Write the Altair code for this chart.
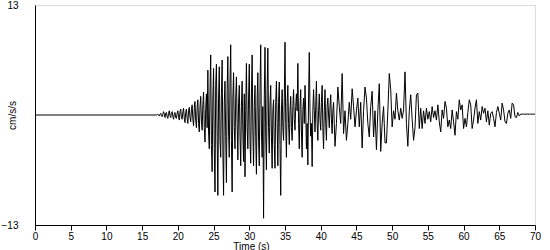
import altair as alt
import pandas as pd

# Acceleration record (cm/s/s). Quiet (0) before 17 s.
# Segment 1: 17.0 s to 41.9 s, one value every 0.1 s
seg1_start, seg1_step = 17.0, 0.1
accel_1 = [
    0, 0.05, 0.1, -0.05, -0.1, 0.1, 0.2, -0.1, -0.2, 0.1,          # 17
    0.4, 0.1, -0.3, 0.2, 0.3, -0.2, -0.4, 0.2, 0.5, -0.1,          # 18
    -0.3, 0.3, 0.4, -0.2, -0.5, 0.1, 0.3, -0.3, -0.4, 0.2,         # 19
    0.5, -0.2, -0.6, 0.4, 0.7, -0.3, -0.5, 0.4, 0.8, -0.4,         # 20
    -0.9, 0.3, 0.7, -0.4, -1.0, 0.5, 0.9, -0.3, -0.8, 0.6,         # 21
    1.2, -0.5, -1.3, 0.8, 1.6, -0.6, -1.5, 0.9, 1.8, -1.0,         # 22
    -2.0, 1.0, 2.2, -0.8, -1.8, 1.2, 2.7, -1.5, -3.2, 0.8,         # 23
    2.5, -1.5, 5.3, -2.0, -4.0, 3.0, 7.1, -3.5, -6.7, 2.0,         # 24
    5.5, -4.0, -9.1, 3.5, 6.0, -2.5, -9.5, 2.0, 5.7, -3.0,         # 25
    -5.0, 2.5, 6.5, -4.0, -9.5, 1.5, 4.0, -2.5, -8.0, 3.0,         # 26
    6.9, -2.0, -5.0, 4.0, 8.3, -3.0, -9.1, 2.0, 5.0, -1.5,         # 27
    -4.0, 2.0, 4.5, -1.0, -5.3, 1.5, 3.5, -2.5, -6.0, 1.0,         # 28
    4.0, -2.0, -5.5, 2.5, -7.3, 0.5, 6.1, -1.5, -4.0, 2.0,         # 29
    6.0, -3.0, -5.7, 2.5, 7.1, -2.0, -6.0, 1.0, 3.5, -2.5,         # 30
    -7.0, 2.0, 5.0, -3.0, -6.0, 3.0, 8.3, -2.0, -5.0, 1.0,         # 31
    -12.2, 2.0, 8.0, -2.5, -6.5, 3.0, 7.9, -1.5, -4.5, 1.5,        # 32
    3.5, -2.5, -6.3, 0.5, 1.8, -3.5, -6.3, 1.5, 4.0, -1.0,         # 33
    -6.0, 1.5, 3.9, -3.5, -9.5, 0.5, 3.0, -1.5, -3.0, 2.0,         # 34
    8.6, -1.0, -5.0, 1.5, 3.5, -1.0, -3.5, 0.5, 2.2, -1.5,         # 35
    -3.0, 1.0, 3.0, -0.5, -1.8, 1.0, 2.5, 0.5, 6.1, -1.0,          # 36
    -4.0, 1.0, 3.0, -2.0, -5.0, 0.5, 2.0, -1.0, 3.5, 0.5,          # 37
    -4.0, -1.0, -5.9, 2.0, 7.4, 0.5, -2.5, -1.0, -6.1, 0.5,        # 38
    3.0, 0.5, -2.0, 1.0, 4.0, -1.0, -3.0, 0.5, 2.5, -0.5,          # 39
    -1.8, 1.5, 3.5, -1.5, -4.0, 0.5, 3.0, -1.0, -3.0, 1.0,         # 40
    2.0, 0.0, -1.5, 1.0, 2.4, -0.5, -2.2, 0.5, 1.5, -1.0,          # 41
]

# Segment 2: 42.0 s to 70.0 s, one value every 0.2 s
seg2_start, seg2_step = 42.0, 0.2
accel_2 = [
    -3.7, -1.0, 3.3, 1.0, -1.0,       # 42
    4.9, -2.2, 0.5, -3.0, -1.0,       # 43
    1.5, -0.5, 3.1, 1.0, -1.4,        # 44
    0.5, 2.0, -1.4, 1.5, -3.9,        # 45
    0.5, 3.3, 2.0, -1.0, -2.6,        # 46
    1.0, 2.8, -2.6, 0.5, -4.1,        # 47
    0.5, 3.7, -4.3, -1.0, 1.0,        # 48
    -3.3, -3.3, 0.5, 4.9, 3.0,        # 49
    -1.4, 0.5, -0.5, 2.6, 0.5,        # 50
    -0.6, 0.8, -0.4, 0.6, 5.1,        # 51
    -1.0, -3.7, 0.5, 2.4, -0.5,       # 52
    -3.0, -1.5, 2.4, 2.6, -1.6,       # 53
    0.8, -1.6, 0.5, -1.0, 0.8,        # 54
    -0.5, 0.4, -0.8, 1.0, -0.3,       # 55
    0.5, -0.6, 1.2, -0.8, -2.0,       # 56
    0.6, -0.4, 1.6, 0.8, -1.4,        # 57
    -0.6, -1.6, 0.6, -0.8, -2.4,      # 58
    0.4, -0.5, 1.8, 0.6, 1.2,         # 59
    -1.6, -0.4, -1.4, 0.3, 1.8,       # 60
    1.2, -1.6, -0.6, 0.8, 1.8,        # 61
    -1.0, 0.4, -0.6, 1.0, 0.2,        # 62
    0.8, -0.8, 0.5, -1.2, 0.2,        # 63
    0.4, -0.4, -1.4, 0.3, 1.0,        # 64
    0.2, -0.6, 1.4, 0.6, -0.8,        # 65
    -1.0, 0.2, 0.6, -0.4, 1.4,        # 66
    1.2, -0.2, -0.3, 0.3, -0.1,       # 67
    0.1, 0.1, 0.1, 0.1, 0.1,          # 68
    0.1, 0.1, 0.1, 0.1, 0.1,          # 69
    0.1,                              # 70
]

x_ticks = [0, 5, 10, 15, 20, 25, 30, 35, 40, 45, 50, 55, 60, 65, 70]
y_labels = [-13, 13]

times = (
    [0.0]
    + [round(seg1_start + i * seg1_step, 2) for i in range(len(accel_1))]
    + [round(seg2_start + i * seg2_step, 2) for i in range(len(accel_2))]
)
values = [0.0] + accel_1 + accel_2
df = pd.DataFrame({"t": times, "a": values})

FONT = "Liberation Sans"

chart = (
    alt.Chart(df)
    .mark_line(color="black", strokeWidth=1, interpolate="linear")
    .encode(
        x=alt.X(
            "t:Q",
            scale=alt.Scale(domain=[0, 70], nice=False, zero=False),
            axis=alt.Axis(
                values=x_ticks,
                title="Time (s)",
                grid=False,
                domainColor="black",
                tickColor="black",
                tickSize=5,
                labelPadding=1,
                labelFont=FONT,
                labelFontSize=10,
                labelColor="black",
                labelFlush=False,
                labelOverlap=False,
                titleFont=FONT,
                titleFontSize=10,
                titleFontWeight="normal",
                titleColor="black",
                titleX=216,
                titleY=16,
                titleBaseline="top",
                titleAnchor="middle",
                titleAlign="center",
            ),
        ),
        y=alt.Y(
            "a:Q",
            scale=alt.Scale(domain=[-13, 13], nice=False, zero=False),
            axis=alt.Axis(
                values=y_labels,
                title="cm/s/s",
                grid=False,
                ticks=False,
                domainColor="black",
                labelPadding=17,
                labelFont=FONT,
                labelFontSize=10,
                labelColor="black",
                labelFlush=False,
                labelOverlap=False,
                labelBaseline="middle",
                titleFont=FONT,
                titleFontSize=10,
                titleFontWeight="normal",
                titleColor="black",
                titleAngle=270,
                titleX=-23,
                titleY=110,
                titleAlign="center",
                titleBaseline="middle",
            ),
        ),
    )
    .properties(
        width=500,
        height=220,
        autosize=alt.AutoSizeParams(type="none"),
        padding={"left": 35, "top": 5, "right": 15, "bottom": 25},
    )
    .configure_view(stroke=None)
    .configure(background="white")
)

chart.save("out.html", embed_options={"renderer": "svg", "actions": False})
